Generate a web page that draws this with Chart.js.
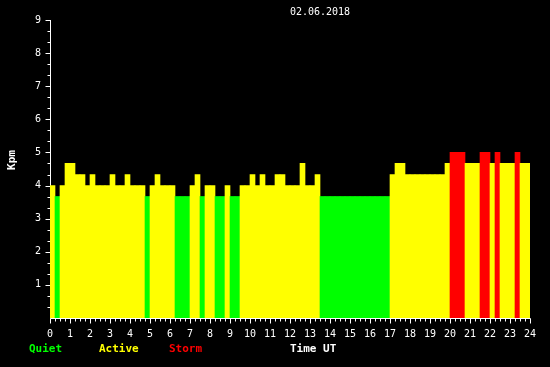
<!DOCTYPE html>
<html>
<head>
<meta charset="utf-8">
<script src="https://cdn.jsdelivr.net/npm/chart.js@4"></script>
<style>
  body { margin: 0; background: #000; }
  canvas { display: block; }
</style>
</head>
<body>
<canvas id="kpChart" width="550" height="367"></canvas>
<script>
// 15 minute slots, UT
const slotStart = [
  "00:00", "00:15", "00:30", "00:45", "01:00", "01:15", "01:30", "01:45",
  "02:00", "02:15", "02:30", "02:45", "03:00", "03:15", "03:30", "03:45",
  "04:00", "04:15", "04:30", "04:45", "05:00", "05:15", "05:30", "05:45",
  "06:00", "06:15", "06:30", "06:45", "07:00", "07:15", "07:30", "07:45",
  "08:00", "08:15", "08:30", "08:45", "09:00", "09:15", "09:30", "09:45",
  "10:00", "10:15", "10:30", "10:45", "11:00", "11:15", "11:30", "11:45",
  "12:00", "12:15", "12:30", "12:45", "13:00", "13:15", "13:30", "13:45",
  "14:00", "14:15", "14:30", "14:45", "15:00", "15:15", "15:30", "15:45",
  "16:00", "16:15", "16:30", "16:45", "17:00", "17:15", "17:30", "17:45",
  "18:00", "18:15", "18:30", "18:45", "19:00", "19:15", "19:30", "19:45",
  "20:00", "20:15", "20:30", "20:45", "21:00", "21:15", "21:30", "21:45",
  "22:00", "22:15", "22:30", "22:45", "23:00", "23:15", "23:30", "23:45"
];

const kpm = [
  4, 3.67, 4, 4.67, 4.67, 4.33, 4.33, 4,
  4.33, 4, 4, 4, 4.33, 4, 4, 4.33,
  4, 4, 4, 3.67, 4, 4.33, 4, 4,
  4, 3.67, 3.67, 3.67, 4, 4.33, 3.67, 4,
  4, 3.67, 3.67, 4, 3.67, 3.67, 4, 4,
  4.33, 4, 4.33, 4, 4, 4.33, 4.33, 4,
  4, 4, 4.67, 4, 4, 4.33, 3.67, 3.67,
  3.67, 3.67, 3.67, 3.67, 3.67, 3.67, 3.67, 3.67,
  3.67, 3.67, 3.67, 3.67, 4.33, 4.67, 4.67, 4.33,
  4.33, 4.33, 4.33, 4.33, 4.33, 4.33, 4.33, 4.67,
  5, 5, 5, 4.67, 4.67, 4.67, 5, 5,
  4.67, 5, 4.67, 4.67, 4.67, 5, 4.67, 4.67
];

const yTickLabels = ["1", "2", "3", "4", "5", "6", "7", "8", "9"];
const xTickLabels = ["0", "1", "2", "3", "4", "5", "6", "7", "8", "9", "10", "11", "12",
  "13", "14", "15", "16", "17", "18", "19", "20", "21", "22", "23", "24"];

const dateTitle = "02.06.2018";
const quietColor = "#00ff00";
const activeColor = "#ffff00";
const stormColor = "#ff0000";

function toHours(s) {
  let p = s.split(":");
  return Number(p[0]) + Number(p[1]) / 60;
}

function barColor(v) {
  if (v >= 5) return stormColor;
  if (v >= 4) return activeColor;
  return quietColor;
}

let points = [];
for (let i = 0; i < kpm.length; i++) {
  points.push({ x: toHours(slotStart[i]) + 0.125, y: kpm[i] });
}

const monoFont = '"DejaVu Sans Mono", monospace';

// axes, ticks and texts are drawn by hand in the old gif style
const axesPlugin = {
  id: "axesPlugin",
  beforeDraw(chart) {
    let ctx = chart.ctx;
    ctx.save();
    ctx.fillStyle = "#000";
    ctx.fillRect(0, 0, chart.width, chart.height);
    ctx.restore();
  },
  beforeDatasetsDraw(chart) {
    let ctx = chart.ctx;
    let xs = chart.scales.x;
    let ys = chart.scales.y;
    let left = Math.round(xs.getPixelForValue(0)) + 0.5;
    let bottom = Math.round(ys.getPixelForValue(0)) + 0.5;

    ctx.save();
    ctx.strokeStyle = "#fff";
    ctx.lineWidth = 1;
    ctx.beginPath();
    ctx.moveTo(left, Math.round(ys.getPixelForValue(9)));
    ctx.lineTo(left, bottom);
    ctx.lineTo(Math.round(xs.getPixelForValue(24)) + 0.5, bottom);

    // y ticks at thirds
    for (let k = 1; k <= 27; k++) {
      let y = Math.round(ys.getPixelForValue(k / 3)) + 0.5;
      let len = (k % 3 === 0) ? 5 : 3;
      ctx.moveTo(left - len, y);
      ctx.lineTo(left, y);
    }
    // x ticks every quarter hour
    for (let k = 0; k <= 96; k++) {
      let x = Math.round(xs.getPixelForValue(k / 4)) + 0.5;
      let len = (k % 4 === 0) ? 5 : 3;
      ctx.moveTo(x, bottom);
      ctx.lineTo(x, bottom + len);
    }
    ctx.stroke();
    ctx.restore();
  },
  afterDraw(chart) {
    let ctx = chart.ctx;
    let xs = chart.scales.x;
    let ys = chart.scales.y;
    ctx.save();
    ctx.fillStyle = "#fff";
    ctx.font = "10px " + monoFont;
    ctx.textBaseline = "middle";

    ctx.textAlign = "right";
    yTickLabels.forEach((t, i) => {
      ctx.fillText(t, 41, ys.getPixelForValue(i + 1));
    });

    ctx.textAlign = "center";
    xTickLabels.forEach((t, i) => {
      ctx.fillText(t, xs.getPixelForValue(i), 334);
    });

    ctx.fillText(dateTitle, 320, 12);

    ctx.font = "bold 11px " + monoFont;
    ctx.textAlign = "left";
    ctx.fillStyle = quietColor;
    ctx.fillText("Quiet", 29, 349);
    ctx.fillStyle = activeColor;
    ctx.fillText("Active", 99, 349);
    ctx.fillStyle = stormColor;
    ctx.fillText("Storm", 169, 349);
    ctx.fillStyle = "#fff";
    ctx.fillText("Time UT", 290, 349);

    ctx.translate(12, 160);
    ctx.rotate(-Math.PI / 2);
    ctx.textAlign = "center";
    ctx.fillText("Kpm", 0, 0);
    ctx.restore();
  }
};

new Chart("kpChart", {
  type: "bar",
  data: {
    datasets: [{
      data: points,
      backgroundColor: kpm.map(barColor),
      borderWidth: 0,
      barPercentage: 1,
      categoryPercentage: 1
    }]
  },
  options: {
    responsive: false,
    animation: false,
    layout: { padding: { left: 50, right: 20, top: 20, bottom: 49 } },
    plugins: {
      legend: { display: false },
      tooltip: { enabled: false }
    },
    scales: {
      x: { type: "linear", min: 0, max: 24, offset: false, display: false },
      y: { min: 0, max: 9, display: false }
    }
  },
  plugins: [axesPlugin]
});
</script>
</body>
</html>
